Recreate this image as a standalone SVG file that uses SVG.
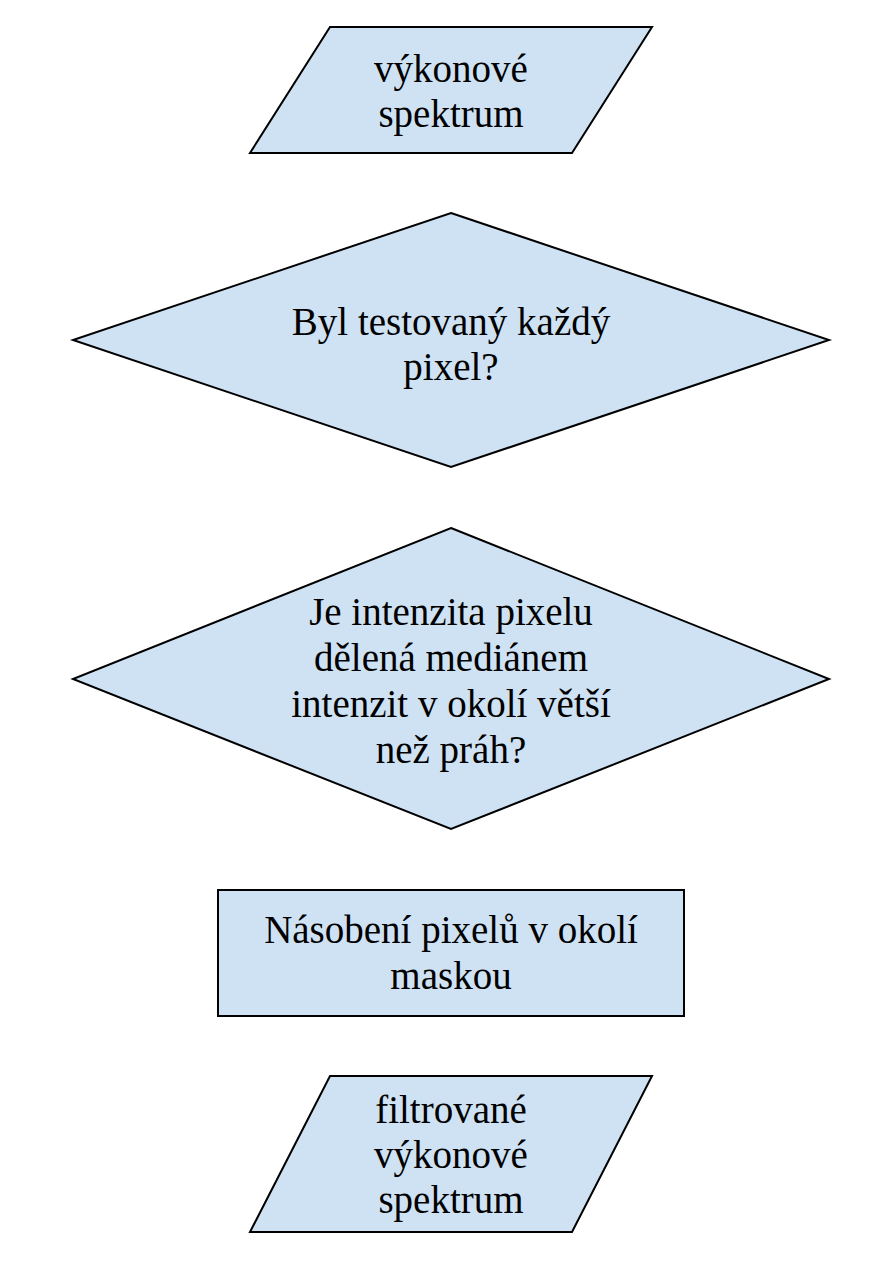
<svg xmlns="http://www.w3.org/2000/svg" width="887" height="1266" viewBox="0 0 887 1266">
<style>
.s{fill:#cfe2f3;stroke:#000;stroke-width:2;stroke-linejoin:miter}
.t{font-family:"Liberation Serif","Times New Roman",serif;font-size:39px;fill:#000;text-anchor:middle}
</style>
<rect width="887" height="1266" fill="#fff"/>
<g id="connectors"></g>
<g id="n1">
<polygon class="s" points="330,27 652,27 572,153 250,153"/>
<text class="t" x="451" y="82">výkonové</text>
<text class="t" x="451" y="127">spektrum</text>
</g>
<g id="n2">
<polygon class="s" points="451,213 829,340 451,467 73,340"/>
<text class="t" x="451" y="335">Byl testovaný každý</text>
<text class="t" x="451" y="380">pixel?</text>
</g>
<g id="n3">
<polygon class="s" points="451,528 829,679 451,829 73,679"/>
<text class="t" x="451" y="625">Je intenzita pixelu</text>
<text class="t" x="451" y="671">dělená mediánem</text>
<text class="t" x="451" y="717">intenzit v okolí větší</text>
<text class="t" x="451" y="763">než práh?</text>
</g>
<g id="n4">
<rect class="s" x="218" y="890" width="466" height="126"/>
<text class="t" x="451" y="943">Násobení pixelů v okolí</text>
<text class="t" x="451" y="989">maskou</text>
</g>
<g id="n5">
<polygon class="s" points="330,1076 652,1076 572,1232 250,1232"/>
<text class="t" x="451" y="1123">filtrované</text>
<text class="t" x="451" y="1168">výkonové</text>
<text class="t" x="451" y="1213">spektrum</text>
</g>
</svg>
